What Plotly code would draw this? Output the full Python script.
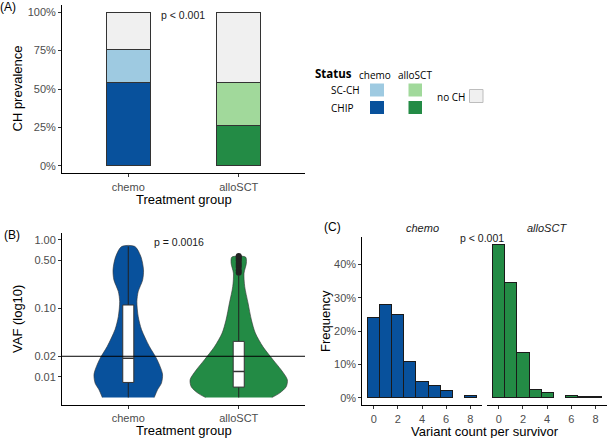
import plotly.graph_objects as go

W, H = 607, 438

# ---------------- data ----------------
groups = ["chemo", "alloSCT"]
group_pos = [1, 2]

# Panel A: CH prevalence (%)
chip_pct = [54, 26]
scch_pct = [22, 28]
noch_pct = [24, 46]

# Panel B: violin density profile (VAF level, half-width in category units)
chemo_vaf = [0.005, 0.0065, 0.0081, 0.011, 0.018, 0.028, 0.049, 0.076, 0.126, 0.176, 0.26, 0.365, 0.57, 0.80]
chemo_hw = [0.235, 0.265, 0.30, 0.31, 0.26, 0.19, 0.12, 0.09, 0.078, 0.09, 0.13, 0.138, 0.114, 0.06]
allo_vaf = [0.005, 0.0058, 0.0072, 0.0091, 0.0126, 0.0178, 0.0275, 0.0437, 0.0676, 0.12, 0.209, 0.327, 0.457, 0.56]
allo_hw = [0.30, 0.37, 0.43, 0.44, 0.385, 0.31, 0.22, 0.15, 0.115, 0.084, 0.054, 0.048, 0.069, 0.062]

# box statistics
box_q1 = [0.0083, 0.0071]
box_med = [0.0187, 0.012]
box_q3 = [0.112, 0.033]
box_lo = [0.005, 0.005]
box_hi = [0.80, 0.30]
allo_outliers = [0.33, 0.36, 0.40, 0.43, 0.46, 0.50, 0.53, 0.56, 0.58]
vaf_threshold = 0.02

# Panel C: variant count per survivor (%)
count_vals = [0, 1, 2, 3, 4, 5, 6, 7, 8]
chemo_freq = [24.2, 28.0, 25.0, 11.0, 5.0, 3.6, 2.1, None, 0.8]
allo_freq = [46.0, 34.7, 13.5, 2.5, 1.7, None, 0.7, 0.3, 0.3]

# ---------------- styles ----------------
BLUE = "#08519c"
LBLUE = "#9ecae1"
GREEN = "#238b45"
LGREEN = "#a1d99b"
GREY = "#f0f0f0"
FONT = "Liberation Sans, Arial, sans-serif"
TICKC = "#4d4d4d"
BOX_HALF = 0.05


def px(x):
    return x / W


def py(y):
    return 1 - y / H


fig = go.Figure()

# ---- Panel A stacked bars
for vals, cols, name in [
    (chip_pct, [BLUE, GREEN], "CHIP"),
    (scch_pct, [LBLUE, LGREEN], "SC-CH"),
    (noch_pct, [GREY, GREY], "no CH"),
]:
    fig.add_trace(go.Bar(x=group_pos, y=vals, width=0.4, name=name,
                         marker=dict(color=cols, line=dict(color="#333333", width=1)),
                         xaxis="x", yaxis="y", showlegend=False))

# ---- Panel B violins
for c, vaf, hw, col in [(1, chemo_vaf, chemo_hw, BLUE), (2, allo_vaf, allo_hw, GREEN)]:
    xs = [c + w for w in hw] + [c - w for w in reversed(hw)]
    ys = list(vaf) + list(reversed(vaf))
    fig.add_trace(go.Scatter(x=xs, y=ys, mode="lines", fill="toself", fillcolor=col,
                             line=dict(color="#333333", width=0.6, shape="spline", smoothing=0.8),
                             xaxis="x2", yaxis="y2", showlegend=False, hoverinfo="skip"))

# boxplots (drawn as scatter so they sit above the violins)
for i, c in enumerate(group_pos):
    # whisker
    fig.add_trace(go.Scatter(x=[c, c], y=[box_lo[i], box_hi[i]], mode="lines",
                             line=dict(color="#222222", width=1),
                             xaxis="x2", yaxis="y2", showlegend=False, hoverinfo="skip"))
    # box
    fig.add_trace(go.Scatter(x=[c - BOX_HALF, c + BOX_HALF, c + BOX_HALF, c - BOX_HALF, c - BOX_HALF],
                             y=[box_q1[i], box_q1[i], box_q3[i], box_q3[i], box_q1[i]],
                             mode="lines", fill="toself", fillcolor="white",
                             line=dict(color="#333333", width=1),
                             xaxis="x2", yaxis="y2", showlegend=False, hoverinfo="skip"))
    # median
    fig.add_trace(go.Scatter(x=[c - BOX_HALF, c + BOX_HALF], y=[box_med[i], box_med[i]],
                             mode="lines", line=dict(color="#333333", width=1.5),
                             xaxis="x2", yaxis="y2", showlegend=False, hoverinfo="skip"))

fig.add_trace(go.Scatter(x=[2] * len(allo_outliers), y=allo_outliers, mode="markers",
                         marker=dict(color="#222222", size=6),
                         xaxis="x2", yaxis="y2", showlegend=False))
fig.add_trace(go.Scatter(x=[0.4, 2.6], y=[vaf_threshold, vaf_threshold], mode="lines",
                         line=dict(color="black", width=1), cliponaxis=False,
                         xaxis="x2", yaxis="y2", showlegend=False))

# ---- Panel C histograms
fig.add_trace(go.Bar(x=count_vals, y=chemo_freq, width=1,
                     marker=dict(color=BLUE, line=dict(color="#1a1a1a", width=1)),
                     xaxis="x3", yaxis="y3", showlegend=False))
fig.add_trace(go.Bar(x=count_vals, y=allo_freq, width=1,
                     marker=dict(color=GREEN, line=dict(color="#1a1a1a", width=1)),
                     xaxis="x4", yaxis="y4", showlegend=False))

axis_common = dict(showline=True, linecolor="black", linewidth=1, ticks="outside",
                   ticklen=3, tickwidth=1, tickcolor="#333333", showgrid=False,
                   zeroline=False, tickfont=dict(family=FONT, size=11, color=TICKC))

fig.update_layout(
    width=W, height=H, margin=dict(l=0, r=0, t=0, b=0),
    paper_bgcolor="white", plot_bgcolor="white", barmode="stack",
    font=dict(family=FONT),
    xaxis=dict(domain=[px(62), px(305)], range=[0.4, 2.6], tickvals=group_pos,
               ticktext=groups, anchor="y", **axis_common),
    yaxis=dict(domain=[py(173.4), py(4.6)], range=[-5, 105], tickvals=[0, 25, 50, 75, 100],
               ticktext=["0%", "25%", "50%", "75%", "100%"], anchor="x", **axis_common),
    xaxis2=dict(domain=[px(62), px(305)], range=[0.4, 2.6], tickvals=group_pos,
                ticktext=groups, anchor="y2", **axis_common),
    yaxis2=dict(domain=[py(405), py(233)], type="log", range=[-2.41, 0.10],
                tickvals=[0.01, 0.02, 0.1, 0.5, 1.0],
                ticktext=["0.01", "0.02", "0.10", "0.50", "1.00"], anchor="x2", **axis_common),
    xaxis3=dict(domain=[px(362.3), px(481.7)], range=[-0.95, 8.95], tickvals=[0, 2, 4, 6, 8],
                anchor="y3", **axis_common),
    yaxis3=dict(domain=[py(405.4), py(236.7)], range=[-2.3, 48.3], tickvals=[0, 10, 20, 30, 40],
                ticktext=["0%", "10%", "20%", "30%", "40%"], anchor="x3", **axis_common),
    xaxis4=dict(domain=[px(487.3), 1.0], range=[-0.95, 8.95], tickvals=[0, 2, 4, 6, 8],
                anchor="y4", **axis_common),
    yaxis4=dict(domain=[py(405.4), py(236.7)], range=[-2.3, 48.3], anchor="x4",
                showline=False, showticklabels=False, ticks="", showgrid=False, zeroline=False),
)

ann = []


def text(x, y, s, size=13, color="black", angle=0, xanchor="center", family=FONT, **kw):
    ann.append(dict(x=px(x), y=py(y), xref="paper", yref="paper", text=s, showarrow=False,
                    xanchor=xanchor, yanchor="middle", textangle=angle,
                    font=dict(family=family, size=size, color=color), **kw))


# panel labels
text(8, 7, "(A)", size=12)
text(11.5, 235, "(B)", size=12)
text(333, 227, "(C)", size=12)
# axis titles
text(17.5, 89, "CH prevalence", angle=-90)
text(183.5, 199, "Treatment group")
text(17, 319, "VAF (log10)", angle=-90)
text(183.5, 430, "Treatment group")
text(325, 321, "Frequency", angle=-90)
text(485, 431, "Variant count per survivor")
# p values
text(183, 15, "p < 0.001", size=10.5, color="#1a1a1a")
text(179, 242, "p = 0.0016", size=10.5, color="#1a1a1a")
text(481.5, 238, "p < 0.001", size=10.5, color="#1a1a1a")
# facet strips
text(422, 228, "<i>chemo</i>", size=11, color="#1a1a1a")
text(547, 228, "<i>alloSCT</i>", size=11, color="#1a1a1a")

# legend
LF = "Open Sans, Noto Sans, sans-serif"
text(313, 73.5, "<b>Status</b>", size=11.5, xanchor="left", family=LF)
text(375, 75, "chemo", size=10, family=LF)
text(414.5, 75, "alloSCT", size=10, family=LF)
text(329, 90.5, "SC-CH", size=10, xanchor="left", family=LF)
text(329, 108, "CHIP", size=10, xanchor="left", family=LF)
text(435, 96.5, "no CH", size=10, xanchor="left", family=LF)

shapes = []


def swatch(x0, y0, x1, y1, color, border=None):
    shapes.append(dict(type="rect", xref="paper", yref="paper",
                       x0=px(x0), x1=px(x1), y0=py(y1), y1=py(y0),
                       fillcolor=color, line=dict(color=border or color, width=1 if border else 0)))


swatch(370, 83.5, 384, 96.5, LBLUE)
swatch(370, 101, 384, 114, BLUE)
swatch(408.5, 83.5, 422, 96.5, LGREEN)
swatch(408.5, 101, 422, 114, GREEN)
swatch(469.5, 89.5, 483, 102.5, GREY, border="#bdbdbd")

fig.update_layout(annotations=ann, shapes=shapes)

fig.write_html("out.html")
